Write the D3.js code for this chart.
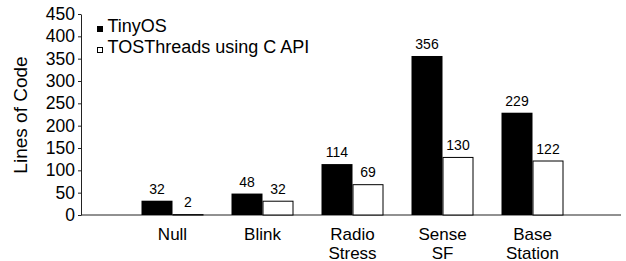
<!DOCTYPE html>
<html>
<head>
<meta charset="utf-8">
<script src="https://cdn.jsdelivr.net/npm/d3@7"></script>
<style>
  body { margin: 0; background: #fff; }
  text { font-family: "Liberation Sans", Arial, Helvetica, sans-serif; fill: #000; }
</style>
</head>
<body>
<div id="chart"></div>
<script>
var categories = [["Null"], ["Blink"], ["Radio", "Stress"], ["Sense", "SF"], ["Base", "Station"]];
var tinyos = [32, 48, 114, 356, 229];
var tosthreads = [2, 32, 69, 130, 122];
var seriesNames = ["TinyOS", "TOSThreads using C API"];
var yTicks = [0, 50, 100, 150, 200, 250, 300, 350, 400, 450];

var width = 626, height = 261,
    plotLeft = 81, plotRight = 621, plotTop = 14, plotBottom = 215,
    barW = 31;

var svg = d3.select("#chart").append("svg")
    .attr("width", width)
    .attr("height", height);

var x = d3.scalePoint()
    .domain(d3.range(categories.length))
    .range([plotLeft, plotRight])
    .padding(1);

var y = d3.scaleLinear()
    .domain([0, 450])
    .range([plotBottom, plotTop]);

// y axis
var yAxis = svg.append("g")
    .attr("transform", "translate(" + plotLeft + ",0)")
    .call(d3.axisLeft(y).tickValues(yTicks).tickSize(3).tickPadding(3).tickSizeOuter(0));
yAxis.select(".domain").attr("stroke", "#222");
yAxis.selectAll(".tick line").attr("stroke", "#222");
yAxis.selectAll(".tick text")
    .style("font-size", "17.5px")
    .attr("fill", "#000");

// x axis line
svg.append("line")
    .attr("x1", plotLeft).attr("x2", plotRight)
    .attr("y1", y(0)).attr("y2", y(0))
    .attr("stroke", "#222");

// bars
var groups = svg.selectAll("g.grp")
    .data(categories)
    .enter().append("g")
    .attr("class", "grp")
    .attr("transform", "translate(1.5,0)");

groups.append("rect")
    .attr("x", function(d, i) { return x(i) - barW; })
    .attr("y", function(d, i) { return y(tinyos[i]); })
    .attr("width", barW)
    .attr("height", function(d, i) { return y(0) - y(tinyos[i]); })
    .attr("fill", "#000");

groups.append("rect")
    .attr("x", function(d, i) { return x(i) + 0.5; })
    .attr("y", function(d, i) { return y(tosthreads[i]) + 0.5; })
    .attr("width", barW - 1)
    .attr("height", function(d, i) { return Math.max(0, y(0) - y(tosthreads[i]) - 0.5); })
    .attr("fill", "#fff")
    .attr("stroke", "#000")
    .attr("stroke-width", 1);

// value labels
groups.append("text")
    .attr("x", function(d, i) { return x(i) - barW / 2; })
    .attr("y", function(d, i) { return y(tinyos[i]) - 7; })
    .attr("text-anchor", "middle")
    .style("font-size", "14px")
    .text(function(d, i) { return tinyos[i]; });

groups.append("text")
    .attr("x", function(d, i) { return x(i) + barW / 2; })
    .attr("y", function(d, i) { return y(tosthreads[i]) - 7; })
    .attr("text-anchor", "middle")
    .style("font-size", "14px")
    .text(function(d, i) { return tosthreads[i]; });

// category labels
groups.append("text")
    .attr("text-anchor", "middle")
    .style("font-size", "17px")
    .attr("transform", function(d, i) { return "translate(" + x(i) + ",239.5)"; })
    .selectAll("tspan")
    .data(function(d) { return d; })
    .enter().append("tspan")
    .attr("x", 0)
    .attr("dy", function(d, j) { return j ? 19 : 0; })
    .text(function(d) { return d; });

// y label
svg.append("text")
    .attr("transform", "translate(27,115) rotate(-90)")
    .attr("text-anchor", "middle")
    .style("font-size", "19px")
    .text("Lines of Code");

// legend
var legend = svg.selectAll("g.leg")
    .data(seriesNames)
    .enter().append("g")
    .attr("class", "leg")
    .attr("transform", function(d, i) { return "translate(97," + (26 + i * 21) + ")"; });

legend.append("rect")
    .attr("x", 0.5).attr("y", 0.5)
    .attr("width", 5).attr("height", 5)
    .attr("fill", function(d, i) { return i ? "#fff" : "#000"; })
    .attr("stroke", "#000");

legend.append("text")
    .attr("x", 10.5)
    .attr("y", 5.5)
    .style("font-size", "18px")
    .text(function(d) { return d; });
</script>
</body>
</html>
